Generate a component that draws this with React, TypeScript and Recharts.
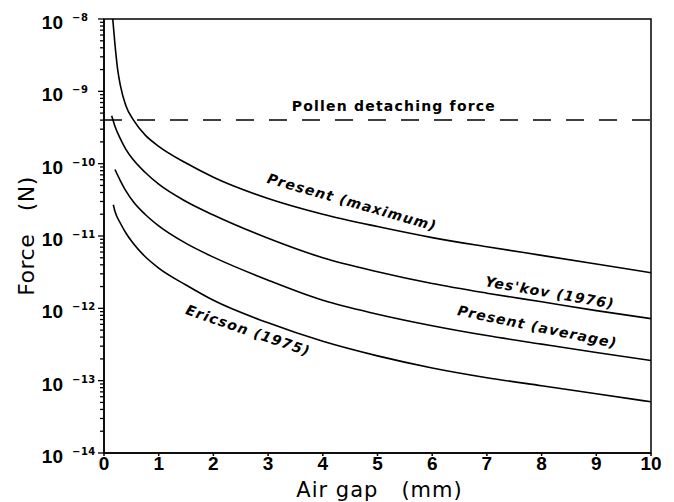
import { LineChart, Line, XAxis, YAxis, ReferenceLine, ReferenceArea, ReferenceDot, Label } from "recharts";

const FONT = "'DejaVu Sans', 'Liberation Sans', sans-serif";
const NUM_FONT = "'Liberation Sans', Arial, sans-serif";

// air gap (mm) and force (N)
const maxGap = [0.16, 0.2, 0.25, 0.3, 0.4, 0.54, 0.75, 1, 1.5, 2, 3, 4, 5, 6, 7, 8, 9, 10];
const maxForce = [1e-8, 4.5e-9, 2.0e-9, 1.2e-9, 6.3e-10, 4.0e-10, 2.5e-10, 1.74e-10, 1.02e-10, 6.5e-11, 3.3e-11, 2.0e-11, 1.35e-11, 9.5e-12, 7.1e-12, 5.4e-12, 4.1e-12, 3.1e-12];

const yesGap = [0.14, 0.2, 0.3, 0.4, 0.54, 0.75, 1, 1.5, 2, 3, 4, 5, 6, 7, 8, 9, 10];
const yesForce = [4.6e-10, 3.3e-10, 2.2e-10, 1.58e-10, 1.12e-10, 7.6e-11, 5.2e-11, 3.0e-11, 1.95e-11, 9.3e-12, 5.0e-12, 3.2e-12, 2.2e-12, 1.62e-12, 1.23e-12, 9.3e-13, 7.2e-13];

const avgGap = [0.2, 0.3, 0.4, 0.54, 0.75, 1, 1.5, 2, 3, 4, 5, 6, 7, 8, 9, 10];
const avgForce = [8.3e-11, 5.8e-11, 4.2e-11, 2.95e-11, 2.0e-11, 1.38e-11, 7.9e-12, 5.1e-12, 2.45e-12, 1.29e-12, 8.3e-13, 5.75e-13, 4.2e-13, 3.2e-13, 2.45e-13, 1.9e-13];

const ericGap = [0.17, 0.2, 0.3, 0.4, 0.54, 0.75, 1, 1.5, 2, 3, 4, 5, 6, 7, 8, 9, 10];
const ericForce = [2.7e-11, 2.2e-11, 1.5e-11, 1.1e-11, 7.8e-12, 5.2e-12, 3.6e-12, 2.1e-12, 1.29e-12, 6.3e-13, 3.5e-13, 2.2e-13, 1.5e-13, 1.1e-13, 8.5e-14, 6.6e-14, 5.1e-14];

const pollenForce = 4.0e-10;

const xTicks = [0, 1, 2, 3, 4, 5, 6, 7, 8, 9, 10];
const decades = [-14, -13, -12, -11, -10, -9];
const yTicks: number[] = [];
decades.forEach((e) => {
  for (let m = 1; m <= 9; m++) yTicks.push(m * Math.pow(10, e));
});
yTicks.push(1e-8);

const toPts = (xs: number[], ys: number[]) => xs.map((x, i) => ({ gap: x, force: ys[i] }));

const YTick = (props: any) => {
  const { x, y, payload } = props;
  const lg = Math.log10(payload.value);
  const exp = Math.round(lg);
  const major = Math.abs(lg - exp) < 1e-6;
  return (
    <g>
      <line x1={x} x2={x - (major ? 6 : 4)} y1={y} y2={y} stroke="#000" strokeWidth={1.3} />
      {major && (
        <g fontWeight="bold" fill="#000">
          <text x={x - 41} y={y + 10} textAnchor="end" fontSize={19} fontFamily={NUM_FONT}>10</text>
          <text x={x - 32} y={y + 2} textAnchor="start" fontSize={10} fontFamily={FONT} letterSpacing={0.5}>{"\u2212" + Math.abs(exp)}</text>
        </g>
      )}
    </g>
  );
};

const curveLabel = (text: string, angle: number) => (p: any) => (
  <text
    x={p.cx}
    y={p.cy}
    transform={`rotate(${angle} ${p.cx} ${p.cy})`}
    textAnchor="middle"
    dominantBaseline="middle"
    fontFamily={FONT}
    fontWeight="bold"
    fontStyle="italic"
    fontSize={14}
    letterSpacing={1.2}
    fill="#000"
  >
    {text}
  </text>
);

export default function App() {
  const series = [
    toPts(maxGap, maxForce),
    toPts(yesGap, yesForce),
    toPts(avgGap, avgForce),
    toPts(ericGap, ericForce),
  ];
  return (
    <div style={{ position: "absolute", left: 0, top: 0, background: "#fff" }}>
      <LineChart width={674} height={502} margin={{ top: 19, right: 23, left: 0, bottom: 0 }}>
        <XAxis
          dataKey="gap"
          type="number"
          domain={[0, 10]}
          ticks={xTicks}
          interval={0}
          height={49}
          stroke="#000"
          strokeWidth={1.5}
          tickSize={3}
          tickMargin={1}
          tick={{ fontSize: 19, fill: "#000", fontFamily: NUM_FONT, fontWeight: "bold" }}
          allowDataOverflow
        >
          <Label
            content={(p: any) => {
              const vb = p.viewBox;
              return (
                <text x={vb.x + vb.width / 2 + 2} y={vb.y + vb.height - 5} textAnchor="middle" fontFamily={FONT} fontSize={21} letterSpacing={1} fill="#000">
                  {"Air gap\u00a0\u00a0\u00a0(mm)"}
                </text>
              );
            }}
          />
        </XAxis>
        <YAxis
          dataKey="force"
          type="number"
          scale="log"
          domain={[1e-14, 1e-8]}
          ticks={yTicks}
          interval={0}
          width={104}
          stroke="#000"
          strokeWidth={1.5}
          tickLine={false}
          tickSize={0}
          tickMargin={0}
          tick={<YTick />}
          allowDataOverflow
        >
          <Label
            content={(p: any) => {
              const vb = p.viewBox;
              const cx = vb.x + 34;
              const cy = vb.y + vb.height / 2;
              return (
                <text x={cx} y={cy} transform={`rotate(-90 ${cx} ${cy})`} textAnchor="middle" fontFamily={FONT} fontSize={22} letterSpacing={0.5} fill="#000">
                  {"Force\u00a0\u00a0\u00a0(N)"}
                </text>
              );
            }}
          />
        </YAxis>
        <ReferenceArea x1={0} x2={10} y1={1e-14} y2={1e-8} fill="none" stroke="#000" strokeWidth={1.5} ifOverflow="visible" />
        <ReferenceLine y={pollenForce} stroke="#000" strokeWidth={1.5} strokeDasharray="18 15" />
        {series.map((d, i) => (
          <Line
            key={i}
            data={d}
            dataKey="force"
            type="monotone"
            stroke="#000"
            strokeWidth={1.6}
            dot={false}
            isAnimationActive={false}
          />
        ))}
        <ReferenceDot x={5.3} y={6.1e-10} r={0} shape={(p: any) => (
          <text x={p.cx} y={p.cy} textAnchor="middle" dominantBaseline="middle" fontFamily={FONT} fontWeight="bold" fontSize={14} letterSpacing={1.2} fill="#000">
            Pollen detaching force
          </text>
        )} />
        <ReferenceDot x={4.53} y={2.85e-11} r={0} shape={curveLabel("Present (maximum)", 16)} />
        <ReferenceDot x={8.15} y={1.6e-12} r={0} shape={curveLabel("Yes'kov (1976)", 10)} />
        <ReferenceDot x={7.92} y={5.4e-13} r={0} shape={curveLabel("Present (average)", 11.7)} />
        <ReferenceDot x={2.63} y={4.8e-13} r={0} shape={curveLabel("Ericson (1975)", 19)} />
      </LineChart>
    </div>
  );
}
